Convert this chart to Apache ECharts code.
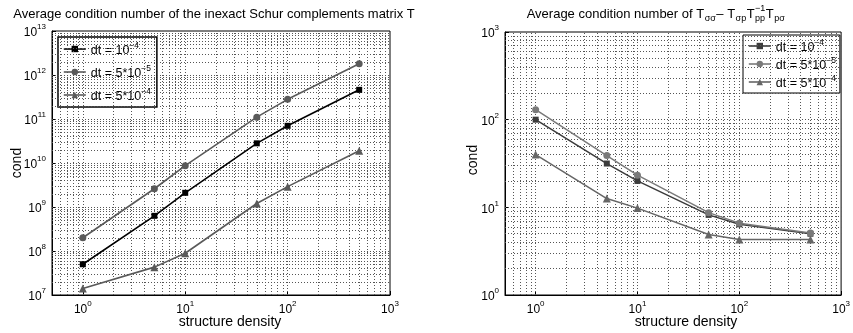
<!DOCTYPE html>
<html>
<head>
<meta charset="utf-8">
<script src="https://cdn.jsdelivr.net/npm/echarts@6/dist/echarts.min.js"></script>
<style>
  html, body { margin: 0; padding: 0; background: #fff; }
  #chart { width: 853px; height: 333px; }
</style>
</head>
<body>
<div id="chart"></div>
<script>
// structure density values (x) shared by both panels
const density = [1, 5, 10, 50, 100, 500];

// left panel: condition number of the inexact Schur complement matrix T
const condT_dt1e4 = [5.0e7, 6.3e8, 2.1e9, 2.8e10, 7.0e10, 4.6e11];
const condT_dt5e5 = [2.0e8, 2.6e9, 8.7e9, 1.1e11, 2.8e11, 1.8e12];
const condT_dt5e4 = [1.4e7, 4.3e7, 8.9e7, 1.2e9, 2.9e9, 1.9e10];

// right panel: condition number of T_ss - T_sp T_pp^-1 T_ps
const condS_dt1e4 = [100, 31.6, 20, 8.2, 6.4, 5.0];
const condS_dt5e5 = [130, 39, 23.3, 8.7, 6.6, 5.1];
const condS_dt5e4 = [40, 12.6, 9.8, 4.9, 4.3, 4.3];

// legend entries: base text ^ exponent
const seriesNames = ['dt = 10^\u22124', 'dt = 5*10^\u22125', 'dt = 5*10^\u22124'];

const FONT = "'Liberation Sans', Arial, Helvetica, sans-serif";

const chart = echarts.init(document.getElementById('chart'), null, { renderer: 'canvas' });

// "10^n" labels for decade ticks only
function decadeLabel(v) {
  const e = Math.log10(v);
  const n = Math.round(e);
  if (Math.abs(e - n) > 1e-6) return '';
  return '{b|10}{s|' + n + '}';
}
const supRich = {
  b: { fontSize: 12, lineHeight: 16, verticalAlign: 'bottom', fontFamily: FONT, color: '#000' },
  s: { fontSize: 8, lineHeight: 8, verticalAlign: 'top', fontFamily: FONT, color: '#000' }
};

// positions of grid lines (1..9 x each decade) strictly inside (lo, hi)
function logGridValues(lo, hi) {
  const out = [];
  for (let e = Math.floor(Math.log10(lo)); e <= Math.ceil(Math.log10(hi)); e++) {
    for (let m = 1; m < 10; m++) {
      const v = m * Math.pow(10, e);
      if (v > lo * 1.0001 && v < hi / 1.0001) out.push(v);
    }
  }
  return out;
}

function gridLines(xi, yi, xLo, xHi, yLo, yHi) {
  return {
    type: 'line', xAxisIndex: xi, yAxisIndex: yi, data: [], silent: true, z: 1,
    animation: false,
    markLine: {
      silent: true, animation: false, symbol: ['none', 'none'],
      label: { show: false },
      emphasis: { disabled: true },
      lineStyle: { color: '#555', width: 1, type: [1, 2] },
      data: logGridValues(xLo, xHi).map(v => ({ xAxis: v }))
        .concat(logGridValues(yLo, yHi).map(v => ({ yAxis: v })))
    }
  };
}

function curve(name, values, idx, color, symbol, size, width) {
  return {
    name: name, type: 'line', xAxisIndex: idx, yAxisIndex: idx,
    data: density.map((x, i) => [x, values[i]]),
    symbol: symbol, symbolSize: size, showSymbol: true,
    lineStyle: { color: color, width: width },
    itemStyle: { color: color },
    z: 5, animation: false, emphasis: { disabled: true }
  };
}

function xAxisCfg(gi) {
  return {
    type: 'log', logBase: 10, gridIndex: gi, min: 0.5, max: 1000, splitNumber: 3,
    axisLine: { show: true, onZero: false, lineStyle: { color: '#000', width: 1 } },
    axisTick: { show: true, inside: true, length: 4, lineStyle: { color: '#000' } },
    splitLine: { show: false },
    axisLabel: { formatter: decadeLabel, rich: supRich, margin: 5, showMinLabel: true, showMaxLabel: true, hideOverlap: false }
  };
}
function yAxisCfg(gi, lo, hi) {
  return {
    type: 'log', logBase: 10, gridIndex: gi, min: lo, max: hi,
    splitNumber: Math.round(Math.log10(hi / lo)),
    axisLine: { show: true, onZero: false, lineStyle: { color: '#000', width: 1 } },
    axisTick: { show: true, inside: true, length: 4, lineStyle: { color: '#000' } },
    splitLine: { show: false },
    axisLabel: { formatter: decadeLabel, rich: supRich, margin: 6, showMinLabel: true, showMaxLabel: true, hideOverlap: false }
  };
}

function legendFormatter(name) {
  const parts = name.split('^');
  return '{b|' + parts[0] + '}{s|' + parts[1] + '}';
}

// right panel title pieces with sub/superscripts, laid out by measured widths
const measureCtx = document.createElement('canvas').getContext('2d');
function textWidth(t, size) {
  measureCtx.font = size + 'px ' + FONT;
  return measureCtx.measureText(t).width;
}
const TITLE_SIZE = 13;
const SUB_SIZE = 9;
const rightTitleParts = [
  { t: 'Average condition number of T', size: TITLE_SIZE, dy: 0 },
  { t: '\u03c3\u03c3', size: SUB_SIZE, dy: 5 },
  { t: '\u2013 T', size: TITLE_SIZE, dy: 0 },
  { t: '\u03c3p', size: SUB_SIZE, dy: 5 },
  { t: 'T', size: TITLE_SIZE, dy: 0 },
  { t: '\u22121', size: SUB_SIZE, dy: -5, stackWith: 'pp' },
  { t: 'T', size: TITLE_SIZE, dy: 0 },
  { t: 'p\u03c3', size: SUB_SIZE, dy: 5 }
];
function buildRightTitle(cx, cy) {
  const items = [];
  let x = 0;
  rightTitleParts.forEach(p => {
    let w = textWidth(p.t, p.size);
    items.push({ t: p.t, size: p.size, x: x, dy: p.dy });
    if (p.stackWith) {
      items.push({ t: p.stackWith, size: p.size, x: x, dy: 5 });
      w = Math.max(w, textWidth(p.stackWith, p.size));
    }
    x += w + 0.5;
  });
  const left = cx - x / 2;
  return items.map(it => ({
    type: 'text', silent: true,
    x: left + it.x, y: cy + it.dy,
    style: { text: it.t, font: it.size + 'px ' + FONT, fill: '#000', textAlign: 'left', textVerticalAlign: 'middle' }
  }));
}

function plainText(t, x, y, size, rot) {
  return {
    type: 'text', silent: true, x: x, y: y, rotation: rot || 0,
    style: { text: t, font: size + 'px ' + FONT, fill: '#000', textAlign: 'center', textVerticalAlign: 'middle' }
  };
}

const leftColors = ['#000000', '#5a5a5a', '#5a5a5a'];
const rightColors = ['#3c3c3c', '#7a7a7a', '#666666'];

function legendCfg(left, top, colors, padding, gap, borderW) {
  return {
    orient: 'vertical', left: left, top: top,
    backgroundColor: '#fff', borderColor: '#000', borderWidth: borderW,
    padding: padding, itemGap: gap, itemWidth: 22, itemHeight: 8,
    selectedMode: false,
    data: seriesNames.map((n, i) => ({
      name: n,
      itemStyle: { color: colors[i] }, lineStyle: { color: colors[i], width: 1.6 }
    })),
    formatter: legendFormatter,
    textStyle: {
      fontFamily: FONT, fontSize: 12, color: '#000',
      rich: {
        b: { fontSize: 12.5, lineHeight: 16, verticalAlign: 'bottom', fontFamily: FONT, color: '#000' },
        s: { fontSize: 8.5, lineHeight: 8, verticalAlign: 'top', fontFamily: FONT, color: '#000' }
      }
    }
  };
}

const option = {
  backgroundColor: '#fff',
  animation: false,
  grid: [
    { left: 52, top: 31, width: 338, height: 264, show: true, borderColor: '#000', borderWidth: 1, backgroundColor: 'transparent' },
    { left: 505, top: 32, width: 340, height: 263, show: true, borderColor: '#000', borderWidth: 1, backgroundColor: 'transparent' }
  ],
  xAxis: [xAxisCfg(0), xAxisCfg(1)],
  yAxis: [yAxisCfg(0, 1e7, 1e13), yAxisCfg(1, 1, 1000)],
  legend: [
    legendCfg(58, 37, leftColors, [4, 6, 4, 5], 7, 1.5),
    legendCfg(743, 35, rightColors, [3, 4, 3, 5], 2, 1)
  ],
  series: [
    gridLines(0, 0, 0.5, 1000, 1e7, 1e13),
    gridLines(1, 1, 0.5, 1000, 1, 1000),
    curve(seriesNames[0], condT_dt1e4, 0, leftColors[0], 'rect', 6, 1.6),
    curve(seriesNames[1], condT_dt5e5, 0, leftColors[1], 'circle', 7, 1.6),
    curve(seriesNames[2], condT_dt5e4, 0, leftColors[2], 'triangle', 8, 1.6),
    curve(seriesNames[0], condS_dt1e4, 1, rightColors[0], 'rect', 6, 1.5),
    curve(seriesNames[1], condS_dt5e5, 1, rightColors[1], 'circle', 7, 1.5),
    curve(seriesNames[2], condS_dt5e4, 1, rightColors[2], 'triangle', 8, 1.5)
  ],
  graphic: [
    plainText('Average condition number of the inexact Schur complements matrix T', 214, 14, TITLE_SIZE),
    plainText('cond', 17, 163, 14, Math.PI / 2),
    plainText('structure density', 230, 322, 14),
    plainText('cond', 473, 160, 14, Math.PI / 2),
    plainText('structure density', 686, 322, 14)
  ].concat(buildRightTitle(656, 14))
};

chart.setOption(option);
</script>
</body>
</html>
